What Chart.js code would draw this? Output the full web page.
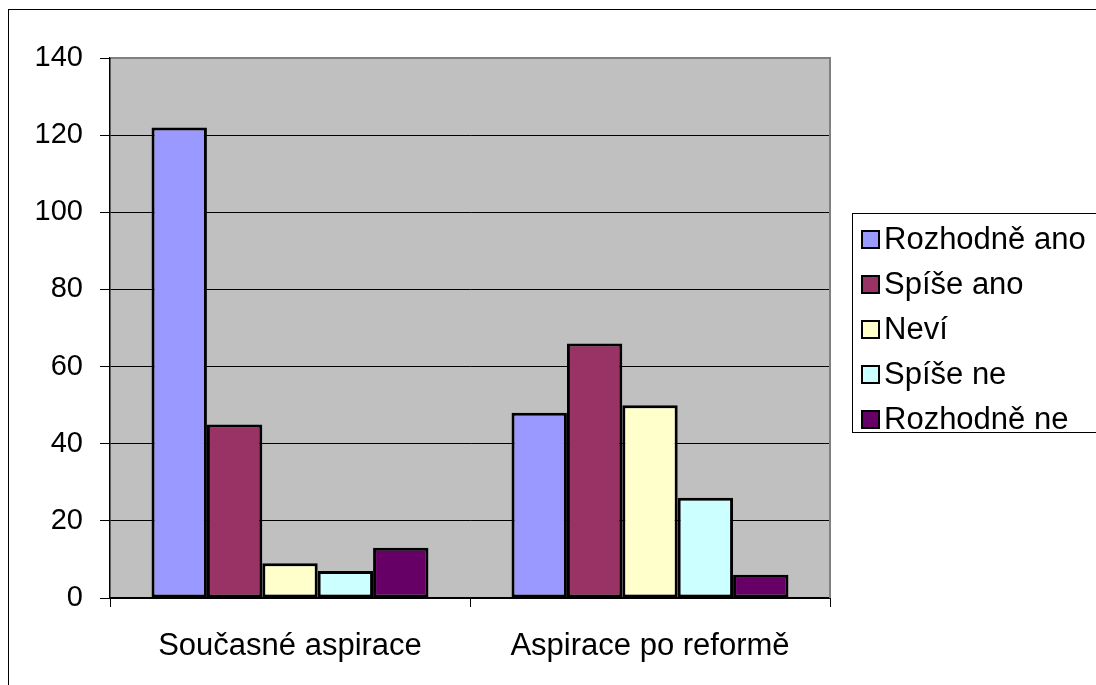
<!DOCTYPE html>
<html>
<head>
<meta charset="utf-8">
<script src="https://cdn.jsdelivr.net/npm/chart.js@4/dist/chart.umd.min.js"></script>
<style>
  html, body { margin: 0; padding: 0; background: #ffffff; }
  canvas { display: block; }
</style>
</head>
<body>
<canvas id="c" width="1096" height="685"></canvas>
<script>
// Survey categories on the x axis
const categories = ['Současné aspirace', 'Aspirace po reformě'];

// Answer groups (one bar series each)
const seriesNames = ['Rozhodně ano', 'Spíše ano', 'Neví', 'Spíše ne', 'Rozhodně ne'];
const rozhodneAno = [122, 48];
const spiseAno    = [45, 66];
const nevi        = [9, 50];
const spiseNe     = [7, 26];
const rozhodneNe  = [13, 6];
const seriesColors = ['#9999FF', '#993366', '#FFFFCC', '#CCFFFF', '#660066'];

// Value axis
const yMin = 0, yMax = 140, yStep = 20;

const FONT = "'Liberation Sans', Arial, sans-serif";
const values = [rozhodneAno, spiseAno, nevi, spiseNe, rozhodneNe];

const datasets = seriesNames.map((name, i) => ({
  label: name,
  data: values[i],
  backgroundColor: seriesColors[i],
  borderColor: '#000000',
  borderWidth: 3,
  borderSkipped: false,
  barPercentage: 1,
  categoryPercentage: 5 / 6.5
}));

// Frame around the whole chart, grey plot background and plot border
const framePlugin = {
  id: 'frame',
  beforeDraw(chart) {
    const ctx = chart.ctx;
    const a = chart.chartArea;
    ctx.save();
    ctx.fillStyle = '#ffffff';
    ctx.fillRect(0, 0, chart.width, chart.height);
    ctx.strokeStyle = '#000000';
    ctx.lineWidth = 1;
    ctx.strokeRect(8.5, 9.5, 1200, 1000);
    ctx.fillStyle = '#C0C0C0';
    ctx.fillRect(a.left, a.top, a.right - a.left, a.bottom - a.top);
    ctx.restore();
  },
  afterDraw(chart) {
    const ctx = chart.ctx;
    const a = chart.chartArea;
    ctx.save();
    ctx.strokeStyle = '#808080';
    ctx.lineWidth = 2;
    ctx.beginPath();
    ctx.moveTo(a.left + 1, a.top);
    ctx.lineTo(a.right, a.top);
    ctx.lineTo(a.right, a.bottom);
    ctx.stroke();
    ctx.restore();
  }
};

// Boxed legend to the right of the plot
const legendBoxPlugin = {
  id: 'legendBox',
  afterDraw(chart) {
    const ctx = chart.ctx;
    const ds = chart.data.datasets;
    const boxX = 852.5, boxY = 213.5, boxW = 260, boxH = 219;
    ctx.save();
    ctx.fillStyle = '#ffffff';
    ctx.fillRect(boxX, boxY, boxW, boxH);
    ctx.strokeStyle = '#000000';
    ctx.lineWidth = 1;
    ctx.strokeRect(boxX, boxY, boxW, boxH);
    ctx.font = '31px ' + FONT;
    ctx.textBaseline = 'middle';
    ctx.textAlign = 'left';
    ds.forEach((d, i) => {
      const cy = 239 + i * 45;
      ctx.fillStyle = d.backgroundColor;
      ctx.fillRect(862, cy - 8, 17, 17);
      ctx.strokeStyle = '#000000';
      ctx.lineWidth = 2;
      ctx.strokeRect(862, cy - 8, 17, 17);
      ctx.fillStyle = '#000000';
      ctx.fillText(d.label, 884, cy + 1);
    });
    ctx.restore();
  }
};

new Chart(document.getElementById('c'), {
  type: 'bar',
  data: { labels: categories, datasets },
  options: {
    responsive: false,
    animation: false,
    layout: { padding: { left: 0, top: 58, right: 266, bottom: 0 } },
    plugins: { legend: { display: false }, tooltip: { enabled: false } },
    scales: {
      x: {
        offset: true,
        grid: {
          offset: true,
          drawOnChartArea: false,
          drawTicks: true,
          tickLength: 9,
          color: '#000000',
          lineWidth: 1
        },
        border: { display: true, color: '#000000', width: 2 },
        ticks: {
          color: '#000000',
          font: { family: FONT, size: 31 },
          padding: 21,
          maxRotation: 0
        },
        afterFit(scale) { scale.height = 87; }
      },
      y: {
        min: yMin,
        max: yMax,
        ticks: {
          stepSize: yStep,
          color: '#000000',
          font: { family: FONT, size: 29 },
          padding: 17
        },
        grid: {
          color: '#000000',
          lineWidth: 1,
          tickLength: 10,
          drawTicks: true
        },
        border: { display: true, color: '#000000', width: 1.5 },
        afterFit(scale) { scale.width = 110; }
      }
    }
  },
  plugins: [framePlugin, legendBoxPlugin]
});
</script>
</body>
</html>
